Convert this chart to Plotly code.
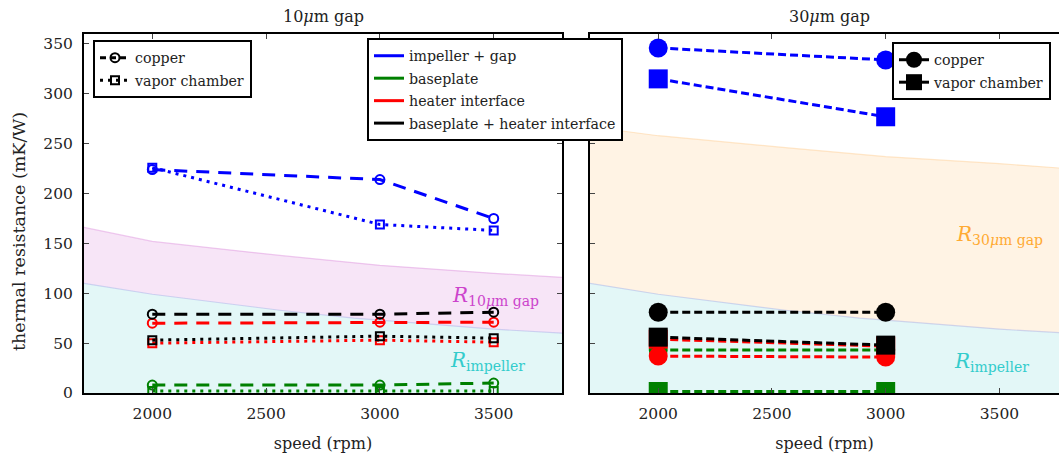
import plotly.graph_objects as go

# speeds where the measurements were taken
speed_10 = [2000, 3000, 3500]
speed_30 = [2000, 3000]

# 10 um gap, copper spreader (mK/W)
cu10_impeller_gap = [224, 214, 175]
cu10_baseplate = [8, 8, 10]
cu10_heater = [70, 71, 71]
cu10_combined = [79, 79, 81]

# 10 um gap, vapor chamber (mK/W)
vc10_impeller_gap = [226, 169, 163]
vc10_baseplate = [2, 2, 2]
vc10_heater = [50, 53, 51]
vc10_combined = [53, 57, 55]

# 30 um gap, copper spreader (mK/W)
cu30_impeller_gap = [346, 334]
cu30_baseplate = [43, 43]
cu30_heater = [37, 36]
cu30_combined = [81, 81]

# 30 um gap, vapor chamber (mK/W)
vc30_impeller_gap = [315, 277]
vc30_baseplate = [1.5, 1.5]
vc30_heater = [54, 47]
vc30_combined = [56, 48]

# model bands
band_speed = [1700, 2000, 2560, 2885, 3000, 3500, 3800]
band_impeller = [110, 99, 83, 75, 73, 64, 60]
band_gap10_top = [166, 152, 138, 131, 128, 120, 116]
band_gap30_top = [267, 258, 246, 239, 237, 230, 225]

components = ["impeller + gap", "baseplate", "heater interface", "baseplate + heater interface"]
colors = ["#0000ff", "#008000", "#ff0000", "#000000"]

FONT = "DejaVu Serif"
TXT = "#222"
W, H = 1059, 453

fig = go.Figure()

# ---- shaded bands
for xa, ya, top, top_fill, top_line in [
    ("x", "y", band_gap10_top, "rgba(230,170,230,0.30)", "rgba(220,140,220,0.45)"),
    ("x2", "y2", band_gap30_top, "rgba(255,200,130,0.22)", "rgba(255,190,110,0.35)"),
]:
    fig.add_trace(go.Scatter(
        x=band_speed, y=band_impeller, xaxis=xa, yaxis=ya, mode="lines",
        fill="tozeroy", fillcolor="rgba(175,232,232,0.35)",
        line=dict(color="rgba(160,170,230,0.45)", width=1.2),
        showlegend=False, hoverinfo="skip",
    ))
    fig.add_trace(go.Scatter(
        x=band_speed, y=top, xaxis=xa, yaxis=ya, mode="lines",
        fill="tonexty", fillcolor=top_fill,
        line=dict(color=top_line, width=1.2),
        showlegend=False, hoverinfo="skip",
    ))

# ---- 10 um panel
cu10 = [cu10_impeller_gap, cu10_baseplate, cu10_heater, cu10_combined]
vc10 = [vc10_impeller_gap, vc10_baseplate, vc10_heater, vc10_combined]
for vals, col in zip(vc10, colors):
    fig.add_trace(go.Scatter(
        x=speed_10, y=vals, mode="lines+markers",
        line=dict(color=col, width=3, dash="3px,5px"),
        marker=dict(symbol="square-open", size=8, color=col, line=dict(width=2, color=col)),
        showlegend=False,
    ))
for vals, col in zip(cu10, colors):
    fig.add_trace(go.Scatter(
        x=speed_10, y=vals, mode="lines+markers",
        line=dict(color=col, width=3, dash="13px,9px"),
        marker=dict(symbol="circle-open", size=9, color=col, line=dict(width=2, color=col)),
        showlegend=False,
    ))

# ---- 30 um panel
cu30 = [cu30_impeller_gap, cu30_baseplate, cu30_heater, cu30_combined]
vc30 = [vc30_impeller_gap, vc30_baseplate, vc30_heater, vc30_combined]
for vals, col in zip(cu30, colors):
    fig.add_trace(go.Scatter(
        x=speed_30, y=vals, xaxis="x2", yaxis="y2", mode="lines+markers",
        line=dict(color=col, width=3, dash="8px,4px"),
        marker=dict(symbol="circle", size=19, color=col),
        showlegend=False,
    ))
for vals, col in zip(vc30, colors):
    fig.add_trace(go.Scatter(
        x=speed_30, y=vals, xaxis="x2", yaxis="y2", mode="lines+markers",
        line=dict(color=col, width=3, dash="8px,4px"),
        marker=dict(symbol="square", size=19, color=col),
        showlegend=False,
    ))

# ---- legend entries
fig.add_trace(go.Scatter(x=[None], y=[None], name="copper", legend="legend",
                         legendgroup="a1", mode="lines+markers",
                         line=dict(color="black", width=3, dash="6px,4px"),
                         marker=dict(symbol="circle-open", size=9, line=dict(width=2, color="black"))))
fig.add_trace(go.Scatter(x=[None], y=[None], name="vapor chamber", legend="legend",
                         legendgroup="a2", mode="lines+markers",
                         line=dict(color="black", width=3, dash="3px,5px"),
                         marker=dict(symbol="square-open", size=8, line=dict(width=2, color="black"))))
for i, (name, col) in enumerate(zip(components, colors)):
    fig.add_trace(go.Scatter(x=[None], y=[None], name=name, legend="legend2",
                             legendgroup="b%d" % i, mode="lines",
                             line=dict(color=col, width=3)))
fig.add_trace(go.Scatter(x=[None], y=[None], name="copper", legend="legend3",
                         legendgroup="c1", mode="lines+markers",
                         line=dict(color="black", width=3),
                         marker=dict(symbol="circle", size=16, color="black")))
fig.add_trace(go.Scatter(x=[None], y=[None], name="vapor chamber", legend="legend3",
                         legendgroup="c2", mode="lines+markers",
                         line=dict(color="black", width=3),
                         marker=dict(symbol="square", size=16, color="black")))

# plot area, in window pixels
top_px, bot_px = 34, 393


def px_x(p):
    return p / W


def px_y(p):
    return (bot_px - p) / (bot_px - top_px)


legend_style = dict(bgcolor="white", bordercolor="black", borderwidth=2,
                    font=dict(family=FONT, size=14.2, color=TXT),
                    xanchor="left", yanchor="top", traceorder="grouped",
                    tracegroupgap=1, itemsizing="trace")

axis_common = dict(showline=True, linecolor="black", linewidth=2,
                   ticks="inside", ticklen=5, tickcolor="#444", tickwidth=1,
                   showgrid=False, zeroline=False, automargin=False,
                   tickfont=dict(family=FONT, size=15.5, color=TXT))
xtitle = dict(text="speed (rpm)", standoff=16, font=dict(family=FONT, size=16, color=TXT))
yticks = [0, 50, 100, 150, 200, 250, 300, 350]
xticks = [2000, 2500, 3000, 3500]

fig.update_layout(
    width=W, height=H,
    margin=dict(l=0, r=0, t=top_px, b=H - bot_px),
    plot_bgcolor="white", paper_bgcolor="white",
    xaxis=dict(domain=[px_x(84), px_x(562)], range=[1700, 3800], mirror="ticks",
               tickvals=xticks, anchor="y", ticklabelstandoff=5, title=xtitle,
               **axis_common),
    yaxis=dict(domain=[0, 1], range=[0, 360], mirror="ticks", anchor="x",
               tickvals=yticks, ticklabelstandoff=6, **axis_common),
    xaxis2=dict(domain=[px_x(590), 1.0], range=[1700, 3762], mirror="ticks",
                tickvals=xticks, anchor="y2", ticklabelstandoff=5, title=xtitle,
                **axis_common),
    yaxis2=dict(domain=[0, 1], range=[0, 360], mirror=False, anchor="x2",
                tickvals=yticks, showticklabels=False, **axis_common),
    legend=dict(x=px_x(93), y=px_y(40), **legend_style),
    legend2=dict(x=px_x(367), y=px_y(38), **legend_style),
    legend3=dict(x=px_x(892), y=px_y(42), **legend_style),
)

for txt, cx in [("10<i>μ</i>m gap", 323), ("30<i>μ</i>m gap", 829)]:
    fig.add_annotation(text=txt, x=px_x(cx), y=px_y(16), xref="paper", yref="paper",
                       xanchor="center", yanchor="middle", showarrow=False,
                       font=dict(family=FONT, size=16, color=TXT))

fig.add_annotation(text="thermal resistance (mK/W)", x=px_x(19), y=px_y(232),
                   xref="paper", yref="paper", xanchor="center", yanchor="middle",
                   textangle=-90, showarrow=False,
                   font=dict(family=FONT, size=17.5, color=TXT))

band_labels = [
    ("x", "y", 3507, 97, "<i>R</i><sub>10<i>μ</i>m gap</sub>", "#cc44cc"),
    ("x", "y", 3471, 32, "<i>R</i><sub>impeller</sub>", "#33cccc"),
    ("x2", "y2", 3502, 158, "<i>R</i><sub>30<i>μ</i>m gap</sub>", "#ffaa33"),
    ("x2", "y2", 3467, 31, "<i>R</i><sub>impeller</sub>", "#33cccc"),
]
for xa, ya, bx, by, txt, col in band_labels:
    fig.add_annotation(text=txt, x=bx, y=by, xref=xa, yref=ya, showarrow=False,
                       font=dict(family=FONT, size=20, color=col))

# drop the default 8px page margin so the figure sits at the window corner
fig.write_html("out.html", config={"displayModeBar": False},
               post_script="document.body.style.margin = '0px';")
